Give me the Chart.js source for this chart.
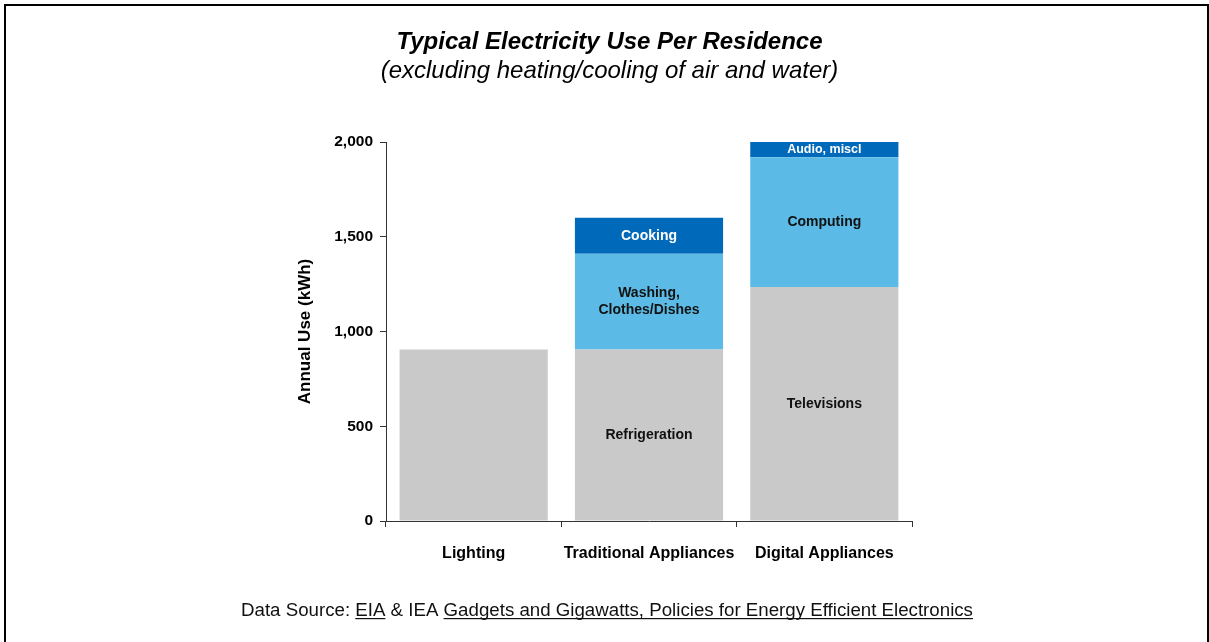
<!DOCTYPE html>
<html>
<head>
<meta charset="utf-8">
<script src="https://cdn.jsdelivr.net/npm/chart.js@4"></script>
<style>
  html, body { margin: 0; padding: 0; background: #fff; }
  #wrap { width: 1209px; height: 642px; }
</style>
</head>
<body>
<div id="wrap"><canvas id="c" width="1209" height="642"></canvas></div>
<script>
const categories = ['Lighting', 'Traditional Appliances', 'Digital Appliances'];
const baseValues = [905, 905, 1235];     // Lighting / Refrigeration / Televisions
const middleValues = [0, 505, 685];      // Washing / Computing
const topValues = [0, 190, 80];          // Cooking / Audio, miscl
const baseLabels = ['', 'Refrigeration', 'Televisions'];
const middleLabels = ['', 'Washing,\nClothes/Dishes', 'Computing'];
const topLabels = ['', 'Cooking', 'Audio, miscl'];
const yTicks = [0, 500, 1000, 1500, 2000];
const titleText = 'Typical Electricity Use Per Residence';
const subtitleText = '(excluding heating/cooling of air and water)';
const footerParts = [
  { text: 'Data Source: ', underline: false },
  { text: 'EIA', underline: true },
  { text: ' & IEA ', underline: false },
  { text: 'Gadgets and Gigawatts, Policies for Energy Efficient Electronics', underline: true }
];

const FONT = "'Liberation Sans', Arial, Helvetica, sans-serif";
const GRAY = '#c9c9c9', LIGHT = '#5bbbe6', DARK = '#0069b9';

const segmentLabelPlugin = {
  id: 'segmentLabels',
  afterDatasetsDraw(chart) {
    const ctx = chart.ctx;
    const sets = [
      { labels: baseLabels, color: '#111', sizes: [14, 14, 14] },
      { labels: middleLabels, color: '#111', sizes: [14, 14, 14] },
      { labels: topLabels, color: '#fff', sizes: [14, 14, 12.5] }
    ];
    ctx.save();
    ctx.textAlign = 'center';
    ctx.textBaseline = 'middle';
    sets.forEach((s, di) => {
      const meta = chart.getDatasetMeta(di);
      meta.data.forEach((el, i) => {
        const txt = s.labels[i];
        if (!txt) return;
        const lines = txt.split('\n');
        const cy = (el.y + el.base) / 2;
        ctx.fillStyle = s.color;
        ctx.font = 'bold ' + s.sizes[i] + 'px ' + FONT;
        const lh = 16.5;
        lines.forEach((ln, k) => {
          ctx.fillText(ln, el.x, cy + (k - (lines.length - 1) / 2) * lh);
        });
      });
    });
    ctx.restore();
  }
};

const frameAndFooterPlugin = {
  id: 'frameFooter',
  beforeDraw(chart) {
    const ctx = chart.ctx;
    ctx.save();
    ctx.fillStyle = '#fff';
    ctx.fillRect(0, 0, chart.width, chart.height);
    ctx.restore();
  },
  afterDraw(chart) {
    const ctx = chart.ctx;
    ctx.save();
    ctx.strokeStyle = '#000';
    ctx.lineWidth = 2;
    ctx.strokeRect(5, 5, 1203, 700);
    ctx.font = '18.7px ' + FONT;
    ctx.fillStyle = '#111';
    ctx.textBaseline = 'alphabetic';
    ctx.textAlign = 'left';
    const total = footerParts.reduce((a, p) => a + ctx.measureText(p.text).width, 0);
    let x = 607 - total / 2;
    const baseY = 615.5;
    footerParts.forEach(p => {
      const w = ctx.measureText(p.text).width;
      ctx.fillText(p.text, x, baseY);
      if (p.underline) {
        ctx.fillRect(x, baseY + 2.5, w, 1.2);
      }
      x += w;
    });
    ctx.restore();
  }
};

new Chart(document.getElementById('c'), {
  type: 'bar',
  data: {
    labels: categories,
    datasets: [
      { data: baseValues, backgroundColor: GRAY },
      { data: middleValues, backgroundColor: LIGHT },
      { data: topValues, backgroundColor: DARK }
    ]
  },
  options: {
    responsive: false,
    animation: false,
    devicePixelRatio: 1,
    layout: { padding: { left: 307, right: 297, top: 0, bottom: 0 } },
    datasets: { bar: { categoryPercentage: 0.845, barPercentage: 1, borderWidth: 0 } },
    plugins: {
      legend: { display: false },
      tooltip: { enabled: false },
      title: {
        display: true,
        text: titleText,
        color: '#000',
        font: { family: FONT, size: 24, weight: 'bold', style: 'italic', lineHeight: 1.2 },
        padding: { top: 28, bottom: 0 }
      },
      subtitle: {
        display: true,
        text: subtitleText,
        color: '#000',
        font: { family: FONT, size: 24, style: 'italic', lineHeight: 1.2 },
        padding: { top: 0, bottom: 56.4 }
      }
    },
    scales: {
      x: {
        stacked: true,
        afterFit(scale) { scale.height = 121; },
        border: { display: true, color: '#333', width: 1 },
        grid: { display: true, drawOnChartArea: false, drawTicks: true, tickLength: 6, color: '#333', offset: true },
        ticks: { color: '#000', padding: 17, maxRotation: 0, minRotation: 0, autoSkip: false,
                 font: { family: FONT, size: 16, weight: 'bold' } }
      },
      y: {
        stacked: true,
        min: 0,
        max: 2000,
        afterFit(scale) { scale.width = 79; },
        afterBuildTicks(scale) { scale.ticks = yTicks.map(v => ({ value: v })); },
        border: { display: true, color: '#333', width: 1 },
        grid: { display: true, drawOnChartArea: false, drawTicks: true, tickLength: 6, color: '#333' },
        ticks: {
          color: '#000',
          padding: 7,
          font: { family: FONT, size: 15.5, weight: 'bold' },
          callback: v => Number(v).toLocaleString('en-US')
        },
        title: {
          display: true,
          text: 'Annual Use (kWh)',
          color: '#000',
          font: { family: FONT, size: 17, weight: 'bold' },
          padding: { top: -12, bottom: 0 }
        }
      }
    }
  },
  plugins: [segmentLabelPlugin, frameAndFooterPlugin]
});
</script>
</body>
</html>
